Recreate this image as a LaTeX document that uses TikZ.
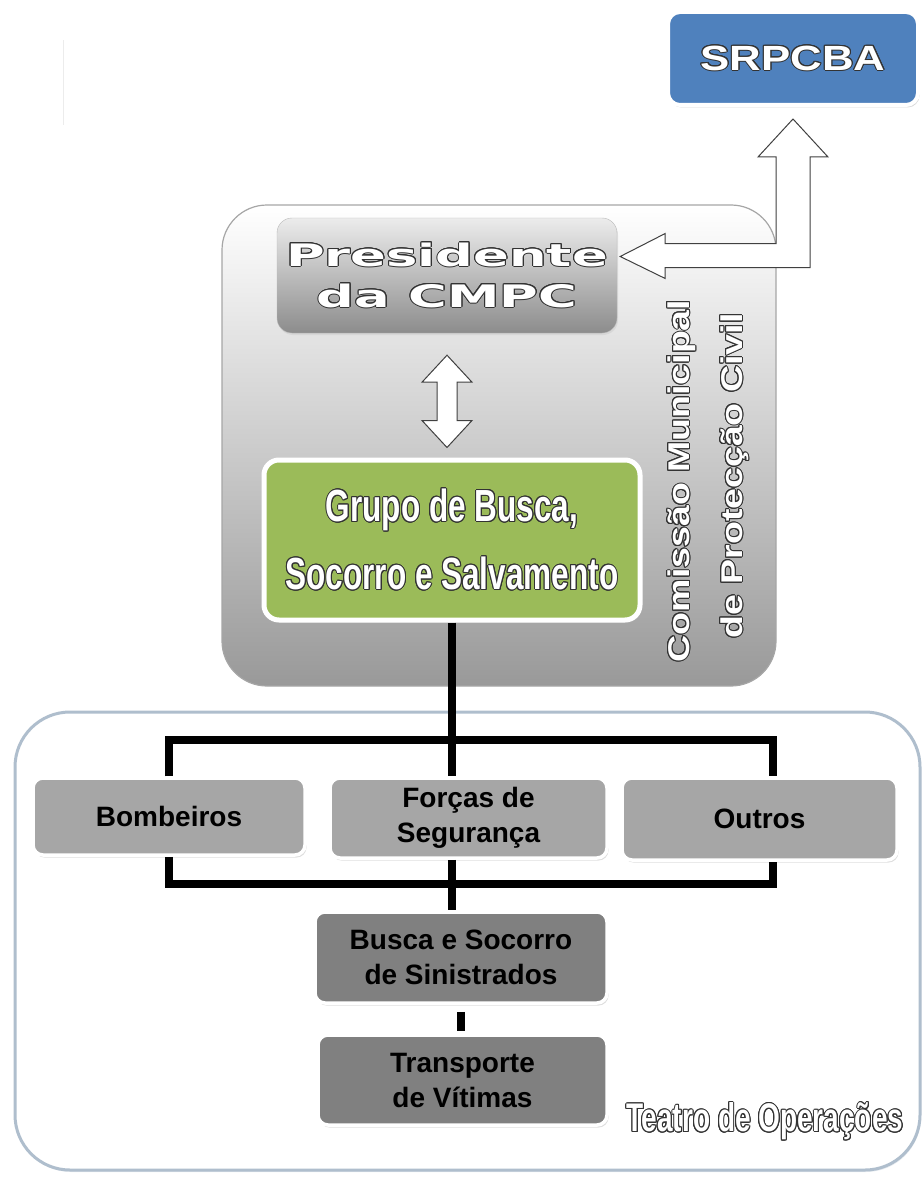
\documentclass[tikz,border=0pt]{standalone}
\usepackage{fontspec}
\setmainfont{Liberation Sans}
\newfontfamily\widefont[FakeStretch=1.7]{DejaVu Sans}
\newfontfamily\narrowfont[FakeStretch=0.7]{Liberation Sans}
\newfontfamily\vertfont[FakeStretch=1.25]{Liberation Sans}
\usepackage{contour}
\contourlength{1pt}
\usetikzlibrary{calc, positioning, shadows}
\definecolor{srpcbaBlue}{RGB}{79,129,189}
\definecolor{grupoGreen}{RGB}{155,187,89}
\definecolor{teatroEdge}{RGB}{175,190,205}
\newcommand{\outl}[1]{\contour{black!80}{#1}}

\tikzset{
  framebox/.style={rounded corners=45pt, draw=gray!70, line width=1.2pt, inner sep=0pt},
  graybox/.style={rounded corners=10pt, draw=white, line width=3.5pt, fill=gray!70,
    drop shadow={shadow xshift=1.5pt, shadow yshift=-2.5pt, fill=black!25},
    font=\bfseries\fontsize{28}{35}\selectfont, align=center, inner sep=0pt},
  darkbox/.style={graybox, fill=gray},
  blockarrow/.style={fill=white, draw=black!75, line width=1pt, line join=miter},
  link/.style={line width=8pt, black},
  vertlabel/.style={rotate=90, text=white, font=\vertfont\bfseries\fontsize{30}{30}\selectfont}
}

\begin{document}
\begin{tikzpicture}[x=1pt, y=-1pt]
  \useasboundingbox (0,0) rectangle (922,1177);
  \draw[gray!15, line width=1pt] (63,40) -- (63,125);

  % the two frames
  \node[framebox, draw=teatroEdge, line width=3pt, fill=white,
    drop shadow={shadow xshift=1pt, shadow yshift=-2pt, fill=teatroEdge!60},
    minimum width=905pt, minimum height=458pt, rounded corners=55pt] (teatro) at (467.5,941) {};
  \node[framebox, top color=white, bottom color=gray!80,
    minimum width=554pt, minimum height=481pt] (cmpc) at (499,445.5) {};

  % CMPC
  \node[rounded corners=15pt, draw=gray!55, top color=gray!15, bottom color=gray!90,
    drop shadow={shadow xshift=1pt, shadow yshift=-2pt, fill=black!20},
    minimum width=340pt, minimum height=115pt, align=center, text=white,
    font=\widefont\bfseries\fontsize{31}{41}\selectfont] (pres) at (447,275.5)
    {\outl{Presidente}\\\outl{da CMPC}};
  \node[rounded corners=15pt, draw=white, line width=5pt, fill=grupoGreen,
    drop shadow={shadow xshift=1.5pt, shadow yshift=-2.5pt, fill=black!25},
    minimum width=376pt, minimum height=160pt, align=center, text=white,
    font=\narrowfont\bfseries\fontsize{45}{68}\selectfont] (grupo) at (452,540)
    {\outl{Grupo de Busca,}\\\outl{Socorro e Salvamento}};
  \node[vertlabel] (comissao) at (682,481) {\outl{Comissão Municipal}};
  \node[vertlabel] (proteccao) at (735,476) {\outl{de Protecção Civil}};

  \node[rounded corners=12pt, draw=white, line width=4pt, fill=srpcbaBlue,
    drop shadow={shadow xshift=1.5pt, shadow yshift=-2.5pt, fill=black!30},
    minimum width=250pt, minimum height=93pt, text=white,
    font=\vertfont\bfseries\fontsize{35}{35}\selectfont] (srpcba) at (793,58.5) {\outl{SRPCBA}};

  % block arrows
  \coordinate (tipL) at ([xshift=3pt, yshift=19pt]pres.east);
  \coordinate (tipU) at ([yshift=-12pt]srpcba.south);
  \draw[blockarrow] (tipL) -- ++(45,-23) -- ++(0,10) -- ($(tipU|-tipL)+(-17,-13)$)
    -- ($(tipU)+(-17,38)$) -- ++(-18,0) -- (tipU) -- ++(35,38) -- ++(-18,0)
    -- ($(tipU|-tipL)+(17,11)$) -- ($(tipL)+(45,11)$) -- ++(0,11) -- cycle;
  \coordinate (tipT) at ([yshift=-22pt]pres.south);
  \coordinate (tipB) at ([yshift=10pt]grupo.north);
  \draw[blockarrow] (tipT) -- ++(25,27) -- ++(-15,0) -- ($(tipT|-tipB)+(10,-27)$)
    -- ++(15,0) -- (tipT|-tipB) -- ++(-25,-27) -- ++(15,0) -- ($(tipT)+(-10,27)$)
    -- ++(-15,0) -- cycle;

  % Teatro de Operacoes
  \node[graybox, minimum width=272pt, minimum height=77pt] (bomb) at (169,816.5) {Bombeiros};
  \node[graybox, minimum width=277pt, minimum height=80pt] (forcas) at (468.5,818) {Forças de\\Segurança};
  \node[graybox, minimum width=275pt, minimum height=82pt] (outros) at (759.5,819) {Outros};
  \node[darkbox, minimum width=292pt, minimum height=91pt] (busca) at (461,957.5) {Busca e Socorro\\de Sinistrados};
  \node[darkbox, minimum width=289pt, minimum height=90pt] (transp) at (462.5,1080) {Transporte\\de Vítimas};
  \node[text=white, font=\narrowfont\bfseries\fontsize{40}{40}\selectfont] (teatrolabel) at (765,1122)
    {\outl{Teatro de Operações}};

  % links
  \draw[link] (grupo.south) -- (grupo.south |- forcas.north);
  \draw[link] (bomb.north) -- ++(0,-36) -| ([xshift=13pt]outros.north);
  \draw[link] (bomb.south) -- ++(0,27) -| ([xshift=13pt]outros.south);
  \draw[link] (grupo.south |- forcas.south) -- (grupo.south |- busca.north);
  \draw[link, shorten >=2pt] ([yshift=-7pt]busca.south) -- (busca.south |- transp.north);
\end{tikzpicture}
\end{document}
